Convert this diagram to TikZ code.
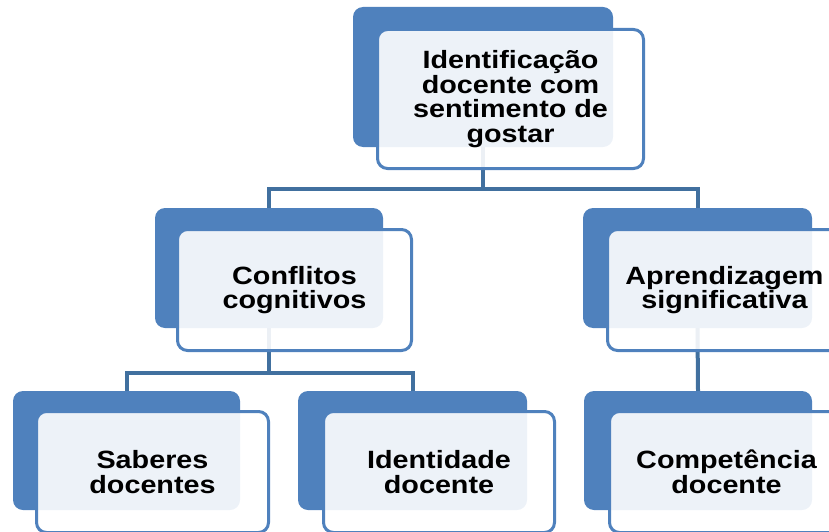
\documentclass[tikz,border=0pt]{standalone}
\usepackage{fontspec}
\setmainfont[FakeStretch=1.15]{Liberation Sans}
\definecolor{backblue}{HTML}{4F81BD}
\definecolor{linkblue}{HTML}{41709F}
\begin{document}
\begin{tikzpicture}[x=1pt,y=-1pt,
  backbox/.style={rectangle, rounded corners=10pt, fill=backblue, draw=none, inner sep=0pt},
  frontbox/.style={rectangle, rounded corners=10pt, fill=white, fill opacity=0.9, text opacity=1,
     draw=backblue, line width=3pt, inner sep=0pt, align=center,
     font=\fontsize{25}{24.5}\selectfont\bfseries},
  link/.style={draw=linkblue, line width=4pt}]
\useasboundingbox (0,0) rectangle (829,532);
% back boxes
\node[backbox, minimum width=260pt, minimum height=140pt] (b0) at (483,77) {};
\node[backbox, minimum width=228pt, minimum height=120pt] (b1) at (269,268) {};
\node[backbox, minimum width=229pt, minimum height=120pt] (b2) at (697.5,268) {};
\node[backbox, minimum width=227pt, minimum height=119pt] (b3) at (126.5,450.5) {};
\node[backbox, minimum width=229pt, minimum height=119pt] (b4) at (412.5,450.5) {};
\node[backbox, minimum width=228pt, minimum height=119pt] (b5) at (698,450.5) {};
% connectors
\coordinate (m1) at (483,189);
\coordinate (m2) at (269,373);
\draw[link] (b0.south) |- (m1) -| (b1.north);
\draw[link] (m1) -| (b2.north);
\draw[link] (b1.south) |- (m2) -| (b3.north);
\draw[link] (m2) -| (b4.north);
\draw[link] (b2.south) -- (b5.north);
% front boxes
\node[frontbox, minimum width=266pt, minimum height=139pt] (f0) at (510.5,99)
  {Identificação\\docente com\\sentimento de\\gostar};
\node[frontbox, minimum width=234pt, minimum height=121pt] (f1) at (294.5,290)
  {Conflitos\\cognitivos};
\node[frontbox, minimum width=234pt, minimum height=121pt] (f2) at (724.5,290)
  {Aprendizagem\\significativa};
\node[frontbox, minimum width=232pt, minimum height=121pt] (f3) at (152.5,472)
  {Saberes\\docentes};
\node[frontbox, minimum width=231pt, minimum height=121pt] (f4) at (439,472)
  {Identidade\\docente};
\node[frontbox, minimum width=234pt, minimum height=121pt] (f5) at (726.5,472)
  {Competência\\docente};
\end{tikzpicture}
\end{document}
